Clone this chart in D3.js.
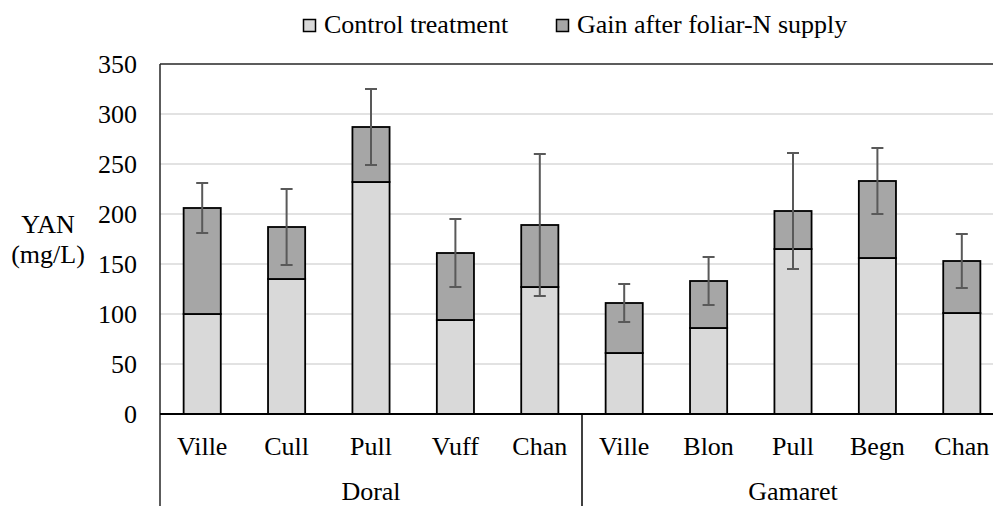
<!DOCTYPE html>
<html>
<head>
<meta charset="utf-8">
<script src="https://cdn.jsdelivr.net/npm/d3@7"></script>
<style>
  body { margin: 0; background: #fff; }
</style>
</head>
<body>
<div class="chart"></div>
<script>
var cultivars = ["Ville", "Cull", "Pull", "Vuff", "Chan", "Ville", "Blon", "Pull", "Begn", "Chan"],
    groups = ["Doral", "Gamaret"],
    groupSize = 5,
    control = [100, 135, 232, 94, 127, 61, 86, 165, 156, 101],
    gain = [106, 52, 55, 67, 62, 50, 47, 38, 77, 52],
    errors = [25, 38, 38, 34, 71, 19, 24, 58, 33, 27],
    yTicks = [0, 50, 100, 150, 200, 250, 300, 350],
    seriesNames = ["Control treatment", "Gain after foliar-N supply"];

var outerWidth = 993,
    outerHeight = 506,
    margin = {left: 160, top: 64},
    plotWidth = 844,
    plotHeight = 350,
    fontSize = 26,
    serif = "'Liberation Serif', 'Times New Roman', Times, serif";

var svg = d3.select(".chart").append("svg")
    .attr("width", outerWidth)
    .attr("height", outerHeight)
    .attr("font-family", serif);

var idx = d3.range(cultivars.length);

var xScale = d3.scaleBand().domain(idx).range([margin.left, margin.left + plotWidth]).padding(0),
    yScale = d3.scaleLinear().domain([0, 350]).range([margin.top + plotHeight, margin.top]),
    color = d3.scaleOrdinal().domain(seriesNames).range(["#d9d9d9", "#a6a6a6"]);

var barWidth = xScale.bandwidth() * 0.44;

function label(sel) {
    return sel.append("text")
        .attr("font-family", serif)
        .attr("font-size", fontSize)
        .attr("fill", "#000");
}

// gridlines
svg.append("g")
    .selectAll("line")
    .data(yTicks.filter(function(d) { return d > 0 && d < 350; }))
    .enter().append("line")
    .attr("x1", margin.left)
    .attr("x2", margin.left + plotWidth)
    .attr("y1", function(d) { return yScale(d); })
    .attr("y2", function(d) { return yScale(d); })
    .attr("stroke", "#d9d9d9")
    .attr("stroke-width", 1.5);

// stacked bars
var rows = idx.map(function(i) { return {i: i, control: control[i], gain: gain[i]}; });
var stack = d3.stack().keys(["control", "gain"]);
var layers = stack(rows);

svg.selectAll(".layer")
    .data(layers)
    .enter().append("g")
    .attr("class", "layer")
    .attr("fill", function(d, k) { return color(seriesNames[k]); })
    .selectAll("rect")
    .data(function(d) { return d; })
    .enter().append("rect")
    .attr("x", function(d) { return xScale(d.data.i) + (xScale.bandwidth() - barWidth) / 2; })
    .attr("y", function(d) { return yScale(d[1]); })
    .attr("width", barWidth)
    .attr("height", function(d) { return yScale(d[0]) - yScale(d[1]); })
    .attr("stroke", "#000")
    .attr("stroke-width", 1.8);

// error bars on the total
var err = svg.append("g").attr("stroke", "#595959").attr("stroke-width", 2);
idx.forEach(function(i) {
    var cx = xScale(i) + xScale.bandwidth() / 2,
        total = control[i] + gain[i],
        top = yScale(total + errors[i]),
        bot = yScale(total - errors[i]);
    err.append("line").attr("x1", cx).attr("x2", cx).attr("y1", top).attr("y2", bot);
    err.append("line").attr("x1", cx - 6).attr("x2", cx + 6).attr("y1", top).attr("y2", top);
    err.append("line").attr("x1", cx - 6).attr("x2", cx + 6).attr("y1", bot).attr("y2", bot);
});

// frame lines
svg.append("line")
    .attr("x1", margin.left).attr("x2", margin.left + plotWidth)
    .attr("y1", margin.top).attr("y2", margin.top)
    .attr("stroke", "#262626").attr("stroke-width", 1.5);
svg.append("line")
    .attr("x1", margin.left).attr("x2", margin.left)
    .attr("y1", margin.top).attr("y2", outerHeight)
    .attr("stroke", "#262626").attr("stroke-width", 1.5);
svg.append("line")
    .attr("x1", margin.left).attr("x2", margin.left + plotWidth)
    .attr("y1", yScale(0)).attr("y2", yScale(0))
    .attr("stroke", "#000").attr("stroke-width", 2);

// group dividers
d3.range(1, groups.length).forEach(function(g) {
    var gx = xScale(g * groupSize);
    svg.append("line")
        .attr("x1", gx).attr("x2", gx)
        .attr("y1", yScale(0)).attr("y2", outerHeight)
        .attr("stroke", "#000").attr("stroke-width", 1.5);
});

// y axis labels
yTicks.forEach(function(d) {
    label(svg)
        .attr("x", 137)
        .attr("y", yScale(d))
        .attr("dy", "0.34em")
        .attr("text-anchor", "end")
        .text(d);
});

// category labels
idx.forEach(function(i) {
    label(svg)
        .attr("x", xScale(i) + xScale.bandwidth() / 2)
        .attr("y", 455)
        .attr("text-anchor", "middle")
        .text(cultivars[i]);
});

groups.forEach(function(name, g) {
    label(svg)
        .attr("x", (xScale(g * groupSize) + xScale((g + 1) * groupSize - 1) + xScale.bandwidth()) / 2)
        .attr("y", 500)
        .attr("text-anchor", "middle")
        .text(name);
});

// y axis title
var yTitle = label(svg).attr("text-anchor", "middle");
yTitle.append("tspan").attr("x", 48).attr("y", 233).text("YAN");
yTitle.append("tspan").attr("x", 48).attr("y", 263).text("(mg/L)");

// legend
var legendX = [303, 556];
seriesNames.forEach(function(name, k) {
    svg.append("rect")
        .attr("x", legendX[k] + 0.5)
        .attr("y", 19.5)
        .attr("width", 12)
        .attr("height", 12)
        .attr("fill", color(name))
        .attr("stroke", "#000")
        .attr("stroke-width", 1.5);
    label(svg)
        .attr("x", legendX[k] + 21)
        .attr("y", 33)
        .text(name);
});
</script>
</body>
</html>
